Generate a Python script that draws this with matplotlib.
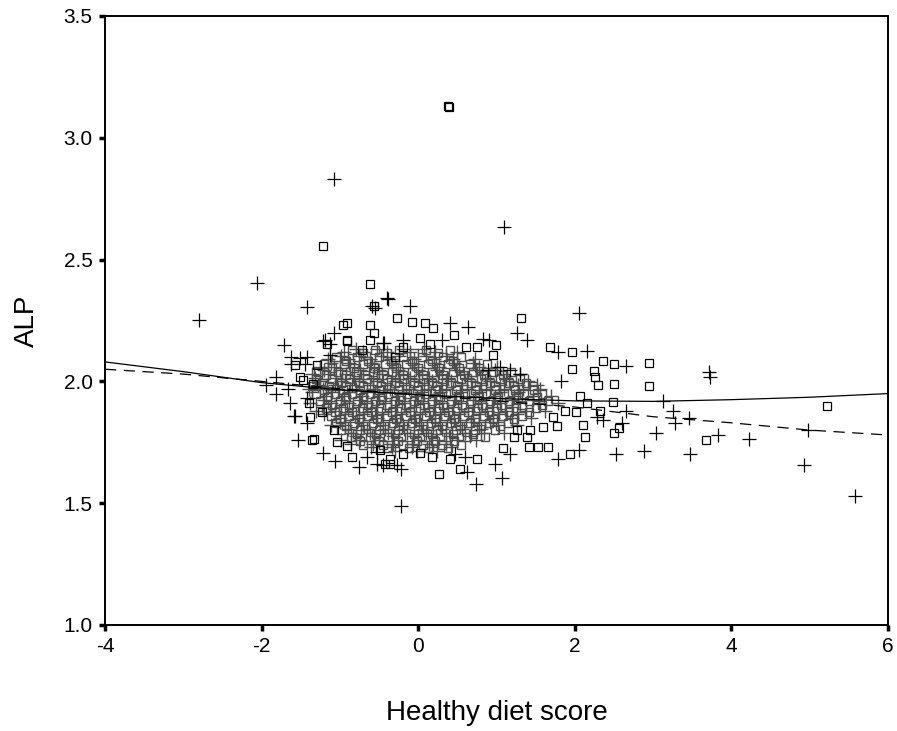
import matplotlib
matplotlib.use("Agg")
import matplotlib.pyplot as plt

plt.rcParams['font.family'] = ['Liberation Sans', 'DejaVu Sans']

# ---- group A (open squares): outlying points ----
sq_x = [0.385, 0.39, -1.21, -0.61, -0.565, -0.275, -0.96, -0.91, -0.62, -0.57,
        -1.16, -0.906, -0.72, -1.57, -1.29, -0.30, -1.51, -1.47, -1.34, -1.23,
        -1.38, -1.40, -1.36, -1.33, -1.08, -1.04, -0.91, -0.85, -0.49, -0.36,
        -0.085, 0.087, 0.19, 0.02, 0.457, 0.61, 0.755, 0.99, 0.96, 1.31,
        1.68, 1.96, 1.96, 2.36, 2.50, 2.95, 2.24, 2.26, 2.29, 2.50,
        2.95, 2.50, 2.13, 1.94, 1.08, 1.22, 1.41, 1.53, 1.66, 0.53,
        0.26, 0.17, 0.41, 0.75, -0.36, -0.42, 0.02, -0.19, 3.68, 5.22,
        0.15, -0.915, -0.62, -0.19, 1.77, 2.11, 1.385, 2.56, 2.07, 2.15,
        2.02, 1.87, 1.72, 1.60, 1.43, 1.26, 2.49, 2.32]
sq_y = [3.13, 3.125, 2.556, 2.40, 2.31, 2.26, 2.23, 2.24, 2.23, 2.20,
        2.155, 2.166, 2.13, 2.067, 2.067, 2.10, 2.02, 2.005, 1.99, 1.876,
        1.855, 1.91, 1.76, 1.765, 1.80, 1.75, 1.735, 1.69, 1.72, 1.68,
        2.245, 2.24, 2.218, 2.18, 2.19, 2.14, 2.14, 2.15, 2.11, 2.26,
        2.14, 2.12, 2.05, 2.084, 2.07, 2.077, 2.044, 2.02, 1.985, 1.99,
        1.98, 1.79, 1.77, 1.70, 1.725, 1.77, 1.73, 1.73, 1.73, 1.64,
        1.62, 1.69, 1.68, 1.68, 1.66, 1.66, 1.705, 1.70, 1.76, 1.90,
        2.155, 2.17, 2.17, 2.14, 1.815, 1.82, 1.77, 1.81, 1.94, 1.91,
        1.876, 1.88, 1.855, 1.814, 1.80, 1.80, 1.917, 1.88]

# ---- group A: central mass, row by row ----
sq_core_x = [
    -0.85, -0.55, -0.25, 0.10, 0.40,
    -0.70, -0.40, -0.05, 0.25,
    -1.05, -0.78, -0.50, -0.20, 0.05, 0.32, 0.55,
    -0.92, -0.64, -0.35, -0.08, 0.18, 0.44,
    -1.20, -0.95, -0.70, -0.42, -0.15, 0.12, 0.38, 0.66, 0.88,
    -1.10, -0.82, -0.56, -0.28, 0.00, 0.26, 0.52, 0.78,
    -1.28, -1.02, -0.80, -0.58, -0.33, -0.08, 0.18, 0.44, 0.70, 0.95, 1.18,
    -1.18, -0.92, -0.68, -0.45, -0.20, 0.06, 0.32, 0.58, 0.84, 1.08,
    -1.30, -1.10, -0.88, -0.65, -0.40, -0.18, 0.06, 0.30, 0.55, 0.80, 1.05, 1.30,
    -1.22, -0.98, -0.76, -0.52, -0.30, -0.06, 0.18, 0.42, 0.68, 0.92, 1.16, 1.38,
    -1.35, -1.14, -0.92, -0.70, -0.48, -0.25, 0.00, 0.24, 0.50, 0.74, 0.98, 1.22, 1.46,
    -1.20, -0.96, -0.74, -0.50, -0.26, -0.02, 0.22, 0.48, 0.72, 0.98, 1.24, 1.48,
    -1.30, -1.06, -0.84, -0.62, -0.38, -0.14, 0.10, 0.35, 0.60, 0.86, 1.10, 1.35, 1.58,
    -1.16, -0.92, -0.70, -0.46, -0.22, 0.02, 0.28, 0.52, 0.78, 1.02, 1.28, 1.52,
    -1.25, -1.00, -0.78, -0.55, -0.30, -0.06, 0.18, 0.42, 0.68, 0.92, 1.16, 1.42, 1.66,
    -1.10, -0.88, -0.64, -0.40, -0.16, 0.08, 0.32, 0.56, 0.82, 1.06, 1.32, 1.58,
    -1.18, -0.96, -0.72, -0.48, -0.22, 0.02, 0.26, 0.50, 0.76, 1.00, 1.25, 1.50,
    -1.06, -0.84, -0.60, -0.34, -0.10, 0.14, 0.38, 0.64, 0.90, 1.16, 1.42,
    -1.12, -0.88, -0.64, -0.40, -0.16, 0.10, 0.34, 0.58, 0.84, 1.08, 1.32,
    -1.00, -0.76, -0.52, -0.28, -0.04, 0.22, 0.46, 0.72, 0.96, 1.22,
    -1.05, -0.82, -0.58, -0.32, -0.08, 0.16, 0.42, 0.66, 0.90, 1.15,
    -0.92, -0.68, -0.44, -0.20, 0.06, 0.30, 0.54, 0.80, 1.04,
    -0.98, -0.74, -0.50, -0.26, 0.00, 0.24, 0.48, 0.72, 0.98,
    -0.78, -0.54, -0.30, -0.06, 0.18, 0.44, 0.70,
    -0.86, -0.62, -0.38, -0.12, 0.12, 0.38, 0.62, 0.85,
    -0.74, -0.50, -0.26, -0.02, 0.22, 0.46,
    -0.70, -0.45, -0.20, 0.06, 0.30, 0.55,
    -0.40, -0.12, 0.14, 0.38]
sq_core_y = (
    [2.13] * 5 + [2.115] * 4 + [2.10] * 7 + [2.085] * 6 + [2.07] * 9 +
    [2.055] * 8 + [2.04] * 11 + [2.025] * 10 + [2.01] * 12 + [1.995] * 12 +
    [1.98] * 13 + [1.965] * 12 + [1.95] * 13 + [1.935] * 12 + [1.92] * 13 +
    [1.905] * 12 + [1.89] * 12 + [1.875] * 11 + [1.86] * 11 + [1.845] * 10 +
    [1.83] * 10 + [1.815] * 9 + [1.80] * 9 + [1.785] * 7 + [1.77] * 8 +
    [1.755] * 6 + [1.74] * 6 + [1.725] * 4)

# ---- group B (plus signs): outlying points ----
pl_x = [-2.80, -2.06, -1.08, 1.10, -0.394, -1.416, -0.594, -0.55, -1.08, -0.445,
        -1.71, -1.19, -1.13, -1.21, -1.13, -1.62, -1.51, -1.42, -1.44, -1.63,
        -1.81, -1.94, -1.66, -1.81, -1.64, -1.42, -1.57, -1.58, -1.42, -1.53,
        -1.21, -1.06, -0.75, -0.66, -0.53, -0.275, -0.445, -0.53, -0.22, -0.38,
        -0.105, 0.41, 0.64, 0.30, -0.437, -0.19, 0.83, 0.90, 1.26, 1.385,
        2.06, 1.79, 2.16, 2.66, 3.13, 3.26, 3.28, 3.04, 2.88, 2.53,
        2.66, 2.60, 2.05, 1.79, 1.17, 1.07, 0.74, -0.225, 0.62, 0.98,
        0.60, 0.47, 3.72, 3.73, 3.46, 3.47, 3.83, 4.22, 4.98, 4.93,
        5.58, 1.04, 1.17, 1.30, 0.895, 1.83, 2.28, 2.36]
pl_y = [2.252, 2.405, 2.83, 2.635, 2.341, 2.307, 2.31, 2.30, 2.20, 2.157,
        2.15, 2.17, 2.11, 2.167, 2.153, 2.10, 2.095, 2.10, 2.07, 2.07,
        2.02, 1.985, 1.97, 1.95, 1.91, 1.93, 1.86, 1.86, 1.83, 1.76,
        1.705, 1.673, 1.65, 1.69, 1.66, 1.657, 1.657, 1.71, 1.49, 2.34,
        2.31, 2.24, 2.225, 2.17, 2.157, 2.17, 2.176, 2.17, 2.20, 2.17,
        2.28, 2.12, 2.125, 2.063, 1.92, 1.88, 1.83, 1.79, 1.716, 1.70,
        1.88, 1.83, 1.72, 1.68, 1.70, 1.605, 1.58, 1.64, 1.63, 1.66,
        1.69, 1.70, 2.04, 2.02, 1.85, 1.70, 1.78, 1.765, 1.80, 1.657,
        1.53, 2.06, 2.047, 2.03, 2.047, 2.00, 1.855, 1.84]

# ---- group B: central mass, row by row ----
pl_core_x = [
    -0.80, -0.52, -0.20, 0.08,
    -0.95, -0.70, -0.40, -0.10, 0.22, 0.50,
    -0.98, -0.76, -0.48, -0.24, 0.10, 0.36,
    -1.15, -0.90, -0.62, -0.35, -0.05, 0.20, 0.45, 0.72,
    -1.12, -0.88, -0.60, -0.34, -0.08, 0.20, 0.46, 0.70,
    -1.25, -1.08, -0.82, -0.56, -0.28, 0.00, 0.26, 0.52, 0.78, 1.00,
    -1.20, -1.00, -0.74, -0.50, -0.26, 0.00, 0.24, 0.48, 0.74, 0.98,
    -1.35, -1.15, -0.92, -0.70, -0.46, -0.20, 0.05, 0.30, 0.58, 0.82, 1.08, 1.30,
    -1.32, -1.05, -0.82, -0.58, -0.34, -0.10, 0.14, 0.38, 0.62, 0.88, 1.12,
    -1.25, -0.99, -0.76, -0.52, -0.30, -0.06, 0.18, 0.42, 0.68, 0.92, 1.16, 1.40,
    -1.28, -1.06, -0.84, -0.62, -0.40, -0.16, 0.08, 0.30, 0.56, 0.80, 1.04, 1.28, 1.52,
    -1.40, -1.22, -1.02, -0.80, -0.58, -0.36, -0.12, 0.12, 0.36, 0.62, 0.86, 1.10, 1.34, 1.56,
    -1.36, -1.10, -0.88, -0.66, -0.44, -0.20, 0.04, 0.28, 0.54, 0.78, 1.04, 1.28,
    -1.18, -0.95, -0.72, -0.50, -0.26, -0.02, 0.22, 0.48, 0.72, 0.98, 1.22, 1.46, 1.70,
    -1.20, -0.98, -0.74, -0.52, -0.28, -0.04, 0.20, 0.46, 0.70, 0.96, 1.20, 1.46,
    -1.38, -1.12, -0.88, -0.66, -0.42, -0.18, 0.06, 0.30, 0.55, 0.80, 1.04, 1.28, 1.54, 1.78,
    -1.22, -0.98, -0.76, -0.54, -0.30, -0.06, 0.20, 0.44, 0.70, 0.94, 1.20,
    -1.30, -1.06, -0.84, -0.60, -0.35, -0.10, 0.14, 0.38, 0.64, 0.88, 1.12, 1.38, 1.62,
    -1.20, -0.94, -0.70, -0.46, -0.22, 0.02, 0.28, 0.52, 0.78, 1.02, 1.26,
    -1.00, -0.76, -0.52, -0.28, -0.04, 0.22, 0.46, 0.70, 0.96, 1.20, 1.44,
    -1.00, -0.78, -0.54, -0.30, -0.06, 0.18, 0.42, 0.68, 0.92,
    -1.12, -0.94, -0.70, -0.45, -0.20, 0.04, 0.28, 0.54, 0.78, 1.02, 1.26,
    -0.90, -0.66, -0.42, -0.18, 0.06, 0.30, 0.56, 0.80,
    -0.86, -0.62, -0.38, -0.14, 0.10, 0.36, 0.60, 0.84, 1.10,
    -0.80, -0.56, -0.32, -0.06, 0.16, 0.40, 0.66,
    -0.98, -0.74, -0.50, -0.26, 0.00, 0.24, 0.50, 0.74,
    -0.86, -0.58, -0.32, -0.08, 0.14, 0.36,
    -0.60, -0.34, -0.08, 0.18, 0.42,
    -0.30, -0.02, 0.24]
pl_core_y = (
    [2.135] * 4 + [2.12] * 6 + [2.105] * 6 + [2.09] * 8 + [2.075] * 8 +
    [2.06] * 10 + [2.045] * 10 + [2.03] * 12 + [2.015] * 11 + [2.00] * 12 +
    [1.985] * 13 + [1.97] * 14 + [1.955] * 12 + [1.94] * 13 + [1.925] * 12 +
    [1.91] * 14 + [1.895] * 11 + [1.88] * 13 + [1.865] * 11 + [1.85] * 11 +
    [1.835] * 9 + [1.82] * 11 + [1.805] * 8 + [1.79] * 9 + [1.775] * 7 +
    [1.76] * 8 + [1.745] * 6 + [1.73] * 5 + [1.715] * 3)

# ---- smoothed fit curves ----
fit_x = [-4, -3, -2, -1, 0, 1, 2, 3, 4, 5, 6]
fit_a = [2.08, 2.04, 1.995, 1.965, 1.945, 1.93, 1.92, 1.918, 1.925, 1.935, 1.95]
fit_b = [2.05, 2.03, 2.00, 1.97, 1.945, 1.92, 1.895, 1.855, 1.83, 1.80, 1.78]

x_ticks = [-4, -2, 0, 2, 4, 6]
y_ticks = [1.0, 1.5, 2.0, 2.5, 3.0, 3.5]

fig = plt.figure(figsize=(8.97, 7.31), dpi=100)
ax = fig.add_axes([105 / 897, 1 - 625 / 731, 783 / 897, 609 / 731])

# dense central mass: overlapping marks merge into a grey mass
core_grey = '#4c4c4c'
ax.plot(sq_core_x, sq_core_y, linestyle='none', marker='s',
        markersize=6.3, markerfacecolor='none', markeredgecolor=core_grey,
        markeredgewidth=1.0)
ax.plot(pl_core_x, pl_core_y, linestyle='none', marker='+',
        markersize=10, color=core_grey, markeredgewidth=1.0)

ax.plot(sq_x, sq_y, linestyle='none', marker='s',
        markersize=6.3, markerfacecolor='none', markeredgecolor='black',
        markeredgewidth=0.9)
ax.plot(pl_x, pl_y, linestyle='none', marker='+',
        markersize=10, color='black', markeredgewidth=0.9)

ax.plot(fit_x, fit_a, color='black', linewidth=0.9)
ax.plot(fit_x, fit_b, color='black', linewidth=0.9, dashes=(9, 6))

ax.set_xlim(-4, 6)
ax.set_ylim(1.0, 3.5)
ax.set_xticks(x_ticks)
ax.set_xticklabels([f"{t:d}" for t in x_ticks])
ax.set_yticks(y_ticks)
ax.set_yticklabels([f"{t:.1f}" for t in y_ticks])
ax.tick_params(direction='out', length=4, width=2.5, labelsize=15, pad=5)

for s in ax.spines.values():
    s.set_linewidth(1.4)

ax.set_xlabel("Healthy diet score", fontsize=20, labelpad=31)
ax.set_ylabel("ALP", fontsize=20, labelpad=17)

fig.savefig("out.png", dpi=100)
